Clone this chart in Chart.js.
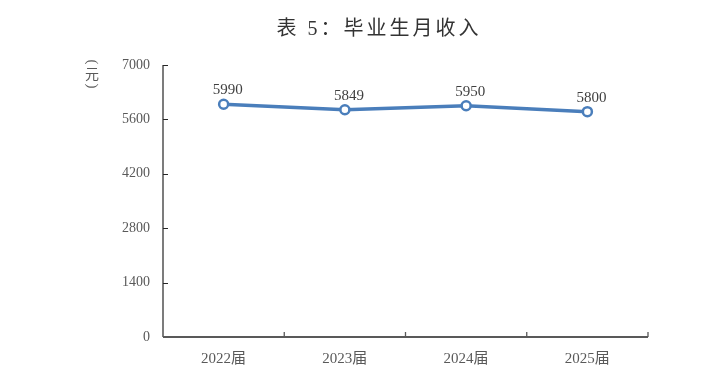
<!DOCTYPE html>
<html><head><meta charset="utf-8">
<script src="https://cdn.jsdelivr.net/npm/chart.js@4"></script>
<style>html,body{margin:0;padding:0;background:#fff}#wrap{width:712px;height:382px;position:relative}</style>
</head><body><div id="wrap"><canvas id="c" width="712" height="382"></canvas></div>
<script>
const categories = ["2022届", "2023届", "2024届", "2025届"];
const income = [5990, 5849, 5950, 5800];
const yTicks = [0, 1400, 2800, 4200, 5600, 7000];
const titleText = "表 5：毕业生月收入";
const unitText = ["(", "元", ")"];

const FONT = '"Liberation Serif", "Noto Sans CJK SC", serif';

const decor = {
  id: 'decor',
  afterDraw(chart) {
    const ctx = chart.ctx;
    const x = chart.scales.x, y = chart.scales.y;
    ctx.save();
    // title
    ctx.fillStyle = '#333333';
    ctx.font = '20px ' + FONT;
    ctx.textAlign = 'center';
    ctx.textBaseline = 'middle';
    ctx.letterSpacing = '3px';
    ctx.fillText(titleText, 379, 30);
    ctx.letterSpacing = '0px';
    // unit (vertical: rotated brackets, upright character)
    ctx.fillStyle = '#595959';
    ctx.font = '15px "Liberation Serif"';
    ctx.save(); ctx.translate(92, 62); ctx.rotate(Math.PI / 2); ctx.fillText(unitText[0], 0, 0); ctx.restore();
    ctx.save(); ctx.translate(92, 86); ctx.rotate(Math.PI / 2); ctx.fillText(unitText[2], 0, 0); ctx.restore();
    ctx.font = '14px "Noto Sans CJK SC"';
    ctx.fillText(unitText[1], 92, 74);
    // y axis line + inward ticks
    ctx.strokeStyle = '#262626';
    ctx.lineWidth = 1.2;
    ctx.beginPath();
    ctx.moveTo(x.left, y.top); ctx.lineTo(x.left, y.bottom);
    yTicks.forEach(v => {
      const py = Math.round(y.getPixelForValue(v)) + 0.5;
      if (v !== 0) { ctx.moveTo(x.left, py); ctx.lineTo(x.left + 5, py); }
    });
    ctx.stroke();
    // x axis line + upward ticks
    ctx.strokeStyle = '#595959';
    ctx.lineWidth = 2.2;
    ctx.beginPath();
    ctx.moveTo(x.left, y.bottom); ctx.lineTo(x.right, y.bottom);
    ctx.stroke();
    ctx.lineWidth = 1.3;
    ctx.beginPath();
    const n = categories.length;
    for (let i = 1; i <= n; i++) {
      const px = (x.getPixelForValue(i - 1) + (i < n ? x.getPixelForValue(i) : 2 * x.getPixelForValue(i - 1) - x.getPixelForValue(i - 2))) / 2;
      ctx.moveTo(px, y.bottom); ctx.lineTo(px, y.bottom - 5);
    }
    ctx.stroke();
    // data labels
    ctx.fillStyle = '#404040';
    ctx.font = '15px ' + FONT;
    const meta = chart.getDatasetMeta(0);
    meta.data.forEach((pt, i) => {
      ctx.fillText(String(income[i]), pt.x + 4, pt.y - 14);
    });
    ctx.restore();
  }
};

new Chart(document.getElementById('c'), {
  type: 'line',
  data: {
    labels: categories,
    datasets: [{
      data: income,
      borderColor: '#4a7ebb',
      borderWidth: 3.5,
      pointRadius: 4.5,
      pointBorderWidth: 2.5,
      pointBackgroundColor: '#ffffff',
      pointBorderColor: '#4a7ebb',
      tension: 0
    }]
  },
  plugins: [decor],
  options: {
    responsive: false,
    animation: false,
    layout: { padding: { left: 0, top: 65, right: 64, bottom: 0 } },
    plugins: { legend: { display: false }, title: { display: false }, tooltip: { enabled: false } },
    scales: {
      x: {
        offset: true,
        grid: { display: false },
        border: { display: false },
        ticks: { color: '#595959', font: { family: FONT, size: 15 }, padding: 5, maxRotation: 0 },
        afterFit(s) { s.height = 45; }
      },
      y: {
        min: 0, max: 7000,
        afterBuildTicks(s) { s.ticks = yTicks.map(v => ({ value: v })); },
        grid: { display: false },
        border: { display: false },
        ticks: { color: '#595959', font: { family: FONT, size: 14 }, padding: 5, callback: v => String(v) },
        afterFit(s) { s.width = 163; }
      }
    }
  }
});
</script></body></html>
